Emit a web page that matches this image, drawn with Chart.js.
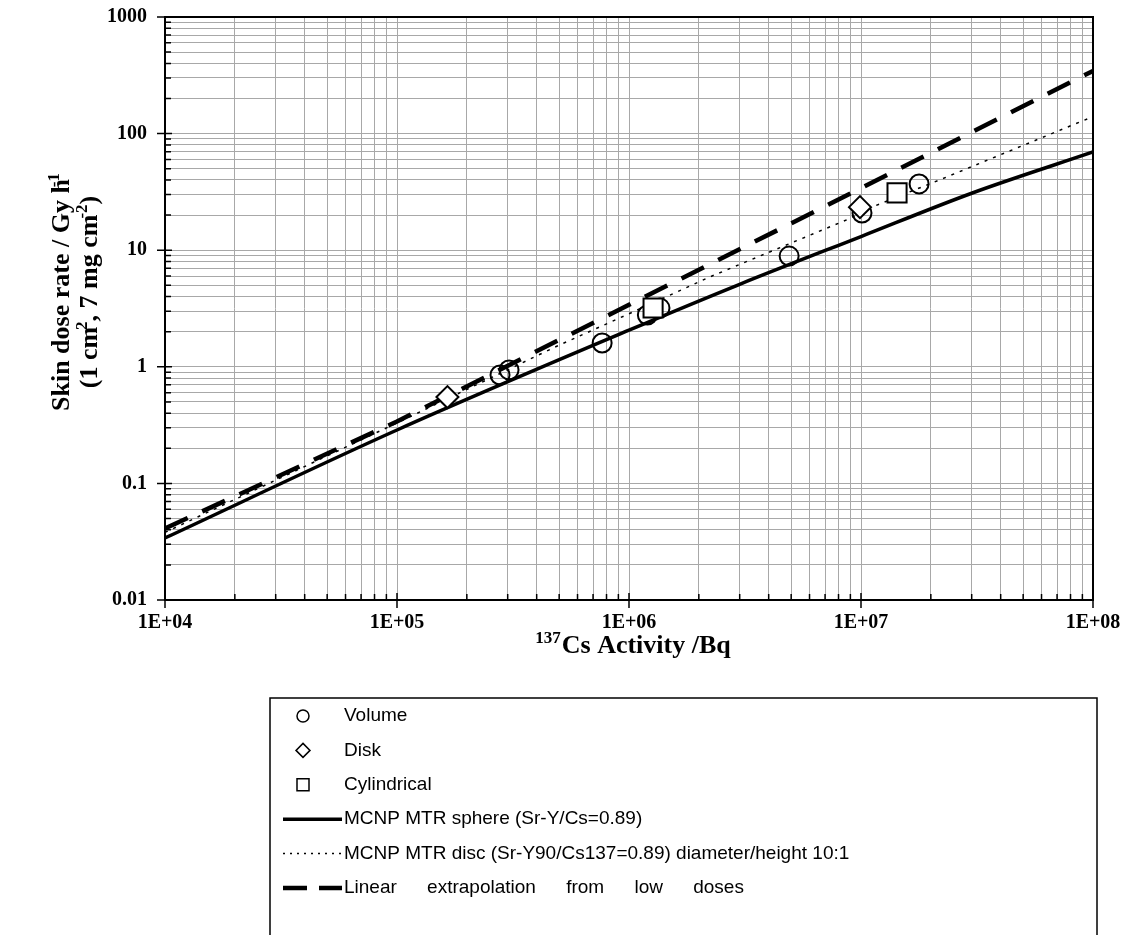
<!DOCTYPE html>
<html>
<head>
<meta charset="utf-8">
<script src="https://cdn.jsdelivr.net/npm/chart.js@4.4.1/dist/chart.umd.min.js"></script>
<style>
  html, body { margin: 0; padding: 0; background: #fff; }
  #wrap { width: 1137px; height: 935px; }
</style>
</head>
<body>
<div id="wrap"><canvas id="chart" width="1137" height="935"></canvas></div>
<script>
// tick labels
const xTickLabels = ['1E+04', '1E+05', '1E+06', '1E+07', '1E+08'];
const yTickLabels = ['0.01', '0.1', '1', '10', '100', '1000'];

// measured points (Bq, Gy/h)
const volumeX = [2.78e5, 3.04e5, 7.66e5, 1.20e6, 1.36e6, 4.9e6, 1.01e7, 1.78e7];
const volumeY = [0.85, 0.94, 1.60, 2.78, 3.19, 8.9, 20.8, 37];
const diskX = [1.65e5, 9.9e6];
const diskY = [0.55, 23.4];
const cylX = [1.27e6, 1.43e7];
const cylY = [3.19, 31];

// calculated curves
const sphereX = [1e4, 1e5, 1e6, 3e6, 1e7, 3e7, 1e8];
const sphereY = [0.034, 0.287, 2.06, 5.1, 13.1, 30.8, 69.5];
const discX = [1e4, 1e5, 4.88e5, 1e6, 2.23e6, 8.67e6, 1.12e7, 1.58e7, 2.15e7, 1e8];
const discY = [0.038, 0.33, 1.5, 2.85, 5.9, 18.2, 23.5, 31, 39.6, 140];
const linearX = [1e4, 1e5, 1e6, 1e7, 1e8];
const linearY = [0.041, 0.34, 3.4, 34, 345];

const toPts = (xs, ys) => xs.map((x, i) => ({ x: x, y: ys[i] }));

// ticks 1..9 x 10^n for grid lines
function logTicks(fromExp, toExp) {
    const t = [];
    for (let e = fromExp; e < toExp; e++) {
        for (let m = 1; m < 10; m++) t.push({ value: m * Math.pow(10, e) });
    }
    t.push({ value: Math.pow(10, toExp) });
    return t;
}
const isDecade = v => Math.abs(Math.log10(v) - Math.round(Math.log10(v))) < 1e-9;

const serif = 'Liberation Serif, Times New Roman, serif';
const sans = 'Liberation Sans, Arial, sans-serif';

// draw text with superscripts, centred on cx
function drawRich(ctx, parts, cx, cy, size) {
    const big = 'bold ' + size + 'px ' + serif;
    const small = 'bold ' + Math.round(size * 0.65) + 'px ' + serif;
    let w = 0;
    parts.forEach(p => {
        ctx.font = p.sup ? small : big;
        w += ctx.measureText(p.t).width + (p.dx || 0);
    });
    let x = cx - w / 2;
    parts.forEach(p => {
        ctx.font = p.sup ? small : big;
        x += (p.dx || 0);
        ctx.fillText(p.t, x, p.sup ? cy - size * 0.38 : cy);
        x += ctx.measureText(p.t).width;
    });
}

const decor = {
    id: 'decor',
    afterDraw(chart) {
        const { ctx, chartArea: a, scales: { x, y } } = chart;
        ctx.save();
        ctx.strokeStyle = '#000';
        ctx.fillStyle = '#000';

        // tick marks
        ctx.lineWidth = 1.5;
        ctx.beginPath();
        x.ticks.forEach(t => {
            const px = x.getPixelForValue(t.value);
            if (isDecade(t.value)) { ctx.moveTo(px, a.bottom - 7); ctx.lineTo(px, a.bottom + 8); }
            else { ctx.moveTo(px, a.bottom); ctx.lineTo(px, a.bottom - 6); }
        });
        y.ticks.forEach(t => {
            const py = y.getPixelForValue(t.value);
            if (isDecade(t.value)) { ctx.moveTo(a.left - 8, py); ctx.lineTo(a.left + 7, py); }
            else { ctx.moveTo(a.left, py); ctx.lineTo(a.left + 6, py); }
        });
        ctx.stroke();

        // frame
        ctx.lineWidth = 2;
        ctx.strokeRect(a.left, a.top, a.right - a.left, a.bottom - a.top);

        // axis titles
        ctx.textBaseline = 'alphabetic';
        ctx.textAlign = 'left';
        drawRich(ctx, [{ t: '137', sup: true }, { t: 'Cs Activity /Bq', dx: 1 }], (a.left + a.right) / 2 + 4, 653, 26);

        ctx.save();
        ctx.translate(69, 292);
        ctx.rotate(-Math.PI / 2);
        drawRich(ctx, [{ t: 'Skin dose rate / Gy h' }, { t: '-1', sup: true, dx: -8 }], 0, 0, 26);
        drawRich(ctx, [{ t: '(1 cm' }, { t: '2', sup: true, dx: -3 }, { t: ', 7 mg cm' }, { t: '-2', sup: true, dx: -4 }, { t: ')' }], 0, 28, 26);
        ctx.restore();

        // legend box
        const L = { left: 270, top: 698, right: 1097, bottom: 945, row0: 716, step: 34.4, mark: 303, lx0: 283, lx1: 342, text: 344 };
        ctx.lineWidth = 1.5;
        ctx.strokeRect(L.left, L.top, L.right - L.left, L.bottom - L.top);
        ctx.font = '19px ' + sans;
        ctx.textBaseline = 'middle';
        chart.data.datasets.forEach((ds, i) => {
            const ry = L.row0 + i * L.step;
            ctx.setLineDash([]);
            if (ds.showLine) {
                ctx.lineWidth = ds.borderWidth;
                ctx.setLineDash(ds.legendDash || []);
                ctx.beginPath();
                ctx.moveTo(L.lx0, ry);
                ctx.lineTo(L.lx1, ry);
                ctx.stroke();
                ctx.setLineDash([]);
            } else {
                ctx.lineWidth = 1.5;
                ctx.beginPath();
                if (ds.pointStyle === 'circle') ctx.arc(L.mark, ry, 6, 0, Math.PI * 2);
                else if (ds.pointStyle === 'rectRot') {
                    ctx.moveTo(L.mark, ry - 7); ctx.lineTo(L.mark + 7, ry);
                    ctx.lineTo(L.mark, ry + 7); ctx.lineTo(L.mark - 7, ry); ctx.closePath();
                } else ctx.rect(L.mark - 6, ry - 6, 12, 12);
                ctx.stroke();
            }
            ctx.wordSpacing = ds.wideWords ? '25px' : '0px';
            ctx.fillText(ds.label, L.text, ry);
        });
        ctx.restore();
    }
};

new Chart(document.getElementById('chart'), {
    type: 'scatter',
    data: {
        datasets: [
            {
                label: 'Volume', data: toPts(volumeX, volumeY),
                pointStyle: 'circle', pointRadius: 9.5, pointBorderWidth: 2,
                borderColor: '#000', backgroundColor: 'rgba(0,0,0,0)', order: 1
            },
            {
                label: 'Disk', data: toPts(diskX, diskY),
                pointStyle: 'rectRot', pointRadius: 11, pointBorderWidth: 2,
                borderColor: '#000', backgroundColor: '#fff', order: 0
            },
            {
                label: 'Cylindrical', data: toPts(cylX, cylY),
                pointStyle: 'rect', pointRadius: 13.5, pointBorderWidth: 2,
                borderColor: '#000', backgroundColor: '#fff', order: 0
            },
            {
                label: 'MCNP MTR sphere (Sr-Y/Cs=0.89)', data: toPts(sphereX, sphereY),
                showLine: true, pointRadius: 0, borderColor: '#000', borderWidth: 3.5,
                cubicInterpolationMode: 'monotone', order: 4
            },
            {
                label: 'MCNP MTR disc (Sr-Y90/Cs137=0.89) diameter/height 10:1', data: toPts(discX, discY),
                showLine: true, pointRadius: 0, borderColor: '#000', borderWidth: 1.5,
                borderDash: [3, 6], legendDash: [2, 5], order: 3
            },
            {
                label: 'Linear extrapolation from low doses', data: toPts(linearX, linearY),
                showLine: true, pointRadius: 0, borderColor: '#000', borderWidth: 4.5,
                borderDash: [25, 16], legendDash: [24, 12], wideWords: true, order: 2
            }
        ]
    },
    options: {
        responsive: false,
        animation: false,
        events: [],
        layout: { padding: { left: 0, top: 17, right: 44, bottom: 0 } },
        plugins: { legend: { display: false }, tooltip: { enabled: false } },
        scales: {
            x: {
                type: 'logarithmic', min: 1e4, max: 1e8,
                afterFit: s => { s.height = 335; s.paddingLeft = 0; s.paddingRight = 0; },
                afterBuildTicks: s => { s.ticks = logTicks(4, 8); },
                grid: { color: '#a8a8a8', lineWidth: 1, drawTicks: false },
                border: { display: false },
                ticks: {
                    autoSkip: false, maxRotation: 0, padding: 11, color: '#000',
                    font: { family: serif, weight: 'bold', size: 20 },
                    callback: v => isDecade(v) ? xTickLabels[Math.round(Math.log10(v)) - 4] : ''
                }
            },
            y: {
                type: 'logarithmic', min: 0.01, max: 1000,
                afterFit: s => { s.width = 165; s.paddingTop = 0; s.paddingBottom = 0; },
                afterBuildTicks: s => { s.ticks = logTicks(-2, 3); },
                grid: { color: '#a8a8a8', lineWidth: 1, drawTicks: false },
                border: { display: false },
                ticks: {
                    autoSkip: false, padding: 18, color: '#000',
                    font: { family: serif, weight: 'bold', size: 20 },
                    callback: v => isDecade(v) ? yTickLabels[Math.round(Math.log10(v)) + 2] : ''
                }
            }
        }
    },
    plugins: [decor]
});
</script>
</body>
</html>
